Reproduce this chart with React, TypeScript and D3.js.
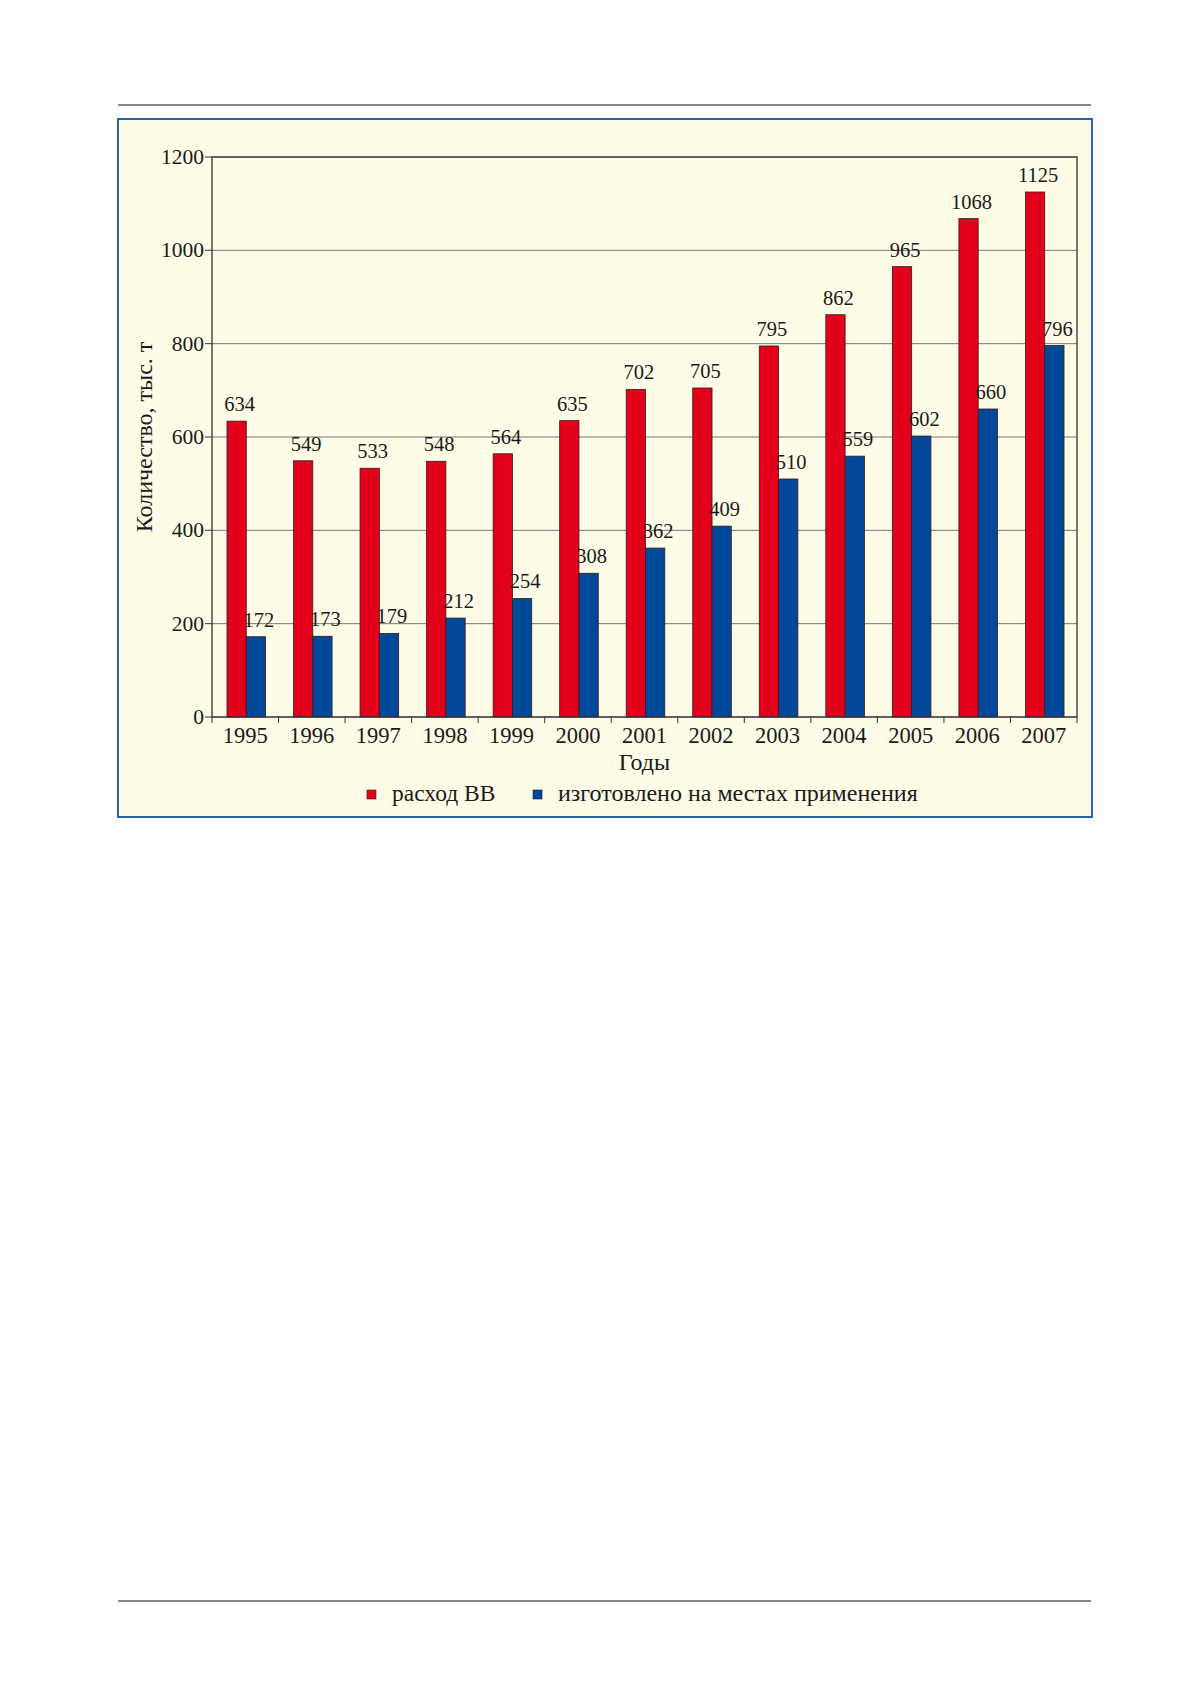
import React from "react";
import * as d3 from "d3";

const years = ["1995", "1996", "1997", "1998", "1999", "2000", "2001", "2002", "2003", "2004", "2005", "2006", "2007"];
const consumption = [634, 549, 533, 548, 564, 635, 702, 705, 795, 862, 965, 1068, 1125];
const producedOnSite = [172, 173, 179, 212, 254, 308, 362, 409, 510, 559, 602, 660, 796];
const yTicks = [0, 200, 400, 600, 800, 1000, 1200];

const seriesNames = ["расход ВВ", "изготовлено на местах применения"];
const seriesColors = ["#e2001a", "#00489a"];

const W = 1179;
const H = 1681;
const font = "'Liberation Serif', 'Times New Roman', serif";
const ink = "#1a1a1a";

const App: React.FC = () => {
  const plot = { left: 212, right: 1077, top: 157, bottom: 717 };

  const x = d3.scaleBand<string>().domain(years).range([plot.left, plot.right]).paddingInner(0).paddingOuter(0);
  const inner = d3.scaleBand<number>().domain([0, 1]).range([0, x.bandwidth() * 0.58]).padding(0);
  const groupOffset = (x.bandwidth() - inner.range()[1]) / 2 + 1;
  const y = d3.scaleLinear().domain([0, 1200]).range([plot.bottom, plot.top]);

  const series = [consumption, producedOnSite];

  return (
    <div style={{ position: "absolute", left: 0, top: 0 }}>
      <svg width={W} height={H} style={{ display: "block", background: "#fff" }}>
        {/* page rules */}
        <line x1={118} x2={1091} y1={105} y2={105} stroke="#888" strokeWidth={2} />
        <line x1={118} x2={1091} y1={1601} y2={1601} stroke="#888" strokeWidth={2} />

        {/* frame */}
        <rect x={118} y={119} width={974} height={698} fill="#fefbe6" stroke="#2a63a9" strokeWidth={2} />

        {/* grid */}
        {yTicks.map((t) => (
          <g key={t}>
            <line x1={plot.left} x2={plot.right} y1={y(t)} y2={y(t)} stroke="#777" strokeWidth={1} />
            <line x1={plot.left - 7} x2={plot.left} y1={y(t)} y2={y(t)} stroke="#333" strokeWidth={1} />
            <text x={plot.left - 8} y={y(t) + 7} textAnchor="end" fontFamily={font} fontSize={21.5} fill={ink}>
              {t}
            </text>
          </g>
        ))}

        {/* bars */}
        {years.map((yr, i) => (
          <g key={yr} transform={`translate(${(x(yr) ?? 0) + groupOffset},0)`}>
            {series.map((s, k) => {
              const bx = inner(k) ?? 0;
              const bw = inner.bandwidth();
              return (
                <g key={k}>
                  <rect
                    x={bx}
                    y={y(s[i])}
                    width={bw}
                    height={y(0) - y(s[i])}
                    fill={seriesColors[k]}
                    stroke="#3a1a1a"
                    strokeWidth={0.8}
                  />
                  <text
                    x={bx + bw / 2 + 3}
                    y={y(s[i]) - 10}
                    textAnchor="middle"
                    fontFamily={font}
                    fontSize={20.5}
                    fill={ink}
                  >
                    {s[i]}
                  </text>
                </g>
              );
            })}
          </g>
        ))}

        {/* plot box */}
        <rect x={plot.left} y={plot.top} width={plot.right - plot.left} height={plot.bottom - plot.top} fill="none" stroke="#333" strokeWidth={1.3} />

        {/* x ticks and labels */}
        {years.map((yr, i) => (
          <g key={yr}>
            <line x1={x(yr) ?? 0} x2={x(yr) ?? 0} y1={plot.bottom} y2={plot.bottom + 6} stroke="#333" strokeWidth={1} />
            {i === years.length - 1 && (
              <line x1={plot.right} x2={plot.right} y1={plot.bottom} y2={plot.bottom + 6} stroke="#333" strokeWidth={1} />
            )}
            <text x={(x(yr) ?? 0) + x.bandwidth() / 2} y={743} textAnchor="middle" fontFamily={font} fontSize={22.5} fill={ink}>
              {yr}
            </text>
          </g>
        ))}

        {/* axis titles */}
        <text x={(plot.left + plot.right) / 2} y={770} textAnchor="middle" fontFamily={font} fontSize={24} fill={ink}>
          Годы
        </text>
        <text
          transform={`translate(152,${(plot.top + plot.bottom) / 2}) rotate(-90)`}
          textAnchor="middle"
          fontFamily={font}
          fontSize={24}
          fill={ink}
        >
          Количество, тыс. т
        </text>

        {/* legend */}
        <rect x={367} y={790} width={9} height={9} fill={seriesColors[0]} stroke="#3a1a1a" strokeWidth={0.6} />
        <text x={392} y={801} fontFamily={font} fontSize={23.5} fill={ink}>
          {seriesNames[0]}
        </text>
        <rect x={533} y={790} width={9} height={9} fill={seriesColors[1]} stroke="#1a1a3a" strokeWidth={0.6} />
        <text x={558} y={801} fontFamily={font} fontSize={24} fill={ink}>
          {seriesNames[1]}
        </text>
      </svg>
    </div>
  );
};

export default App;
